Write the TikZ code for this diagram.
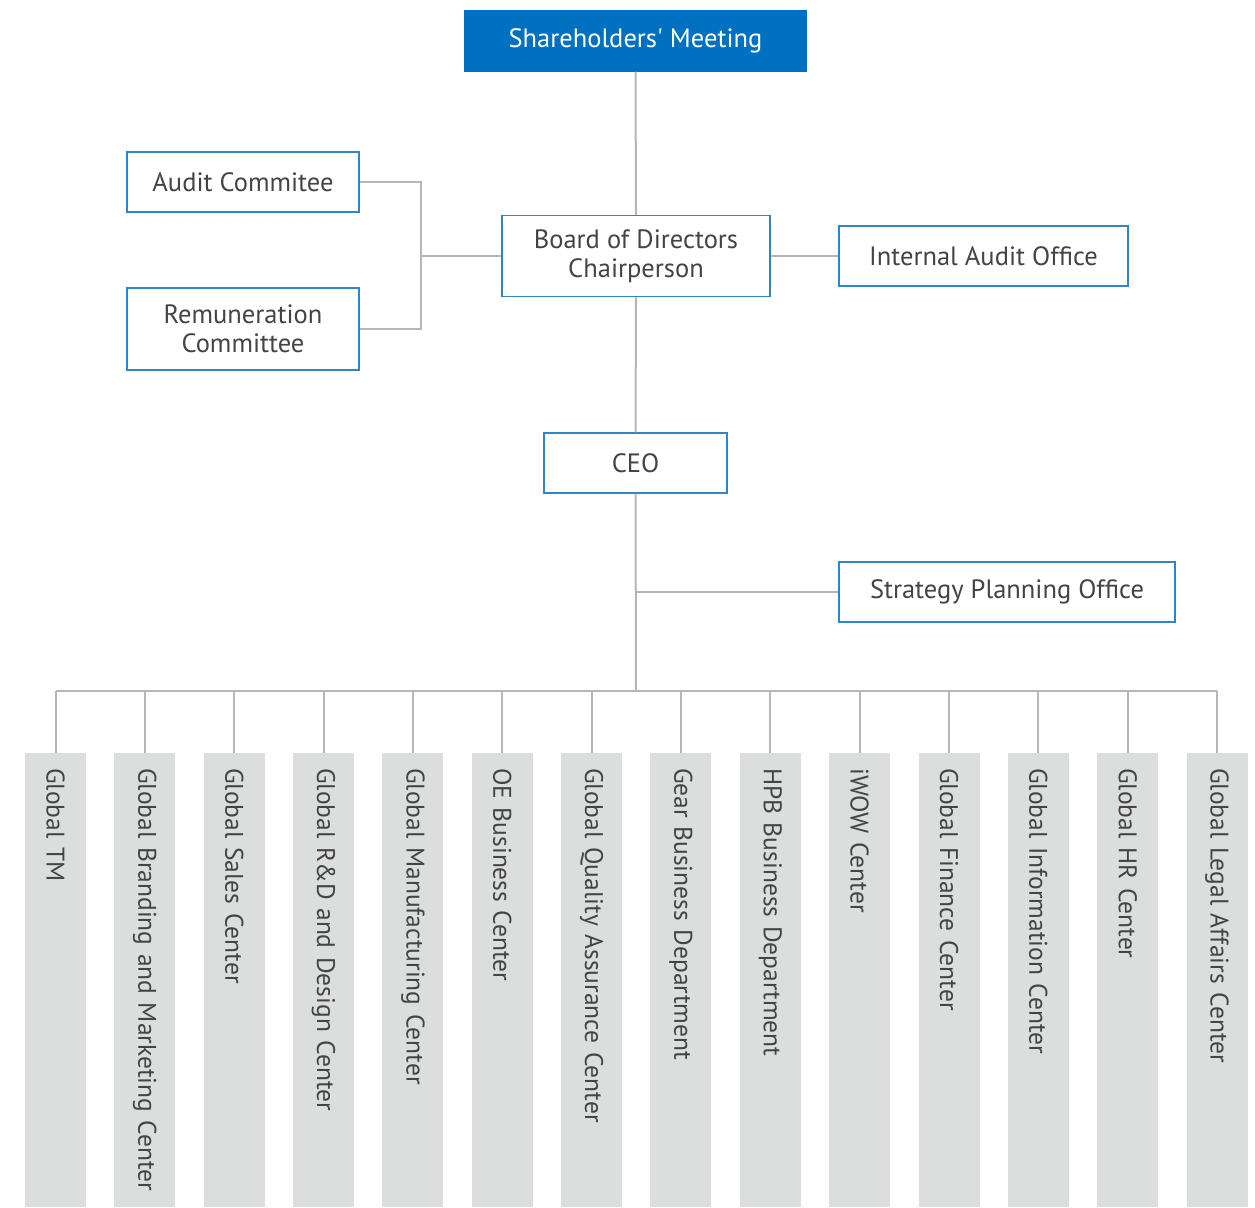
\documentclass[tikz,border=0pt]{standalone}
\usepackage{fontspec}
\setmainfont{PT Sans}
\definecolor{OrgBlue}{RGB}{0,112,192}
\definecolor{OrgEdge}{RGB}{46,134,200}
\definecolor{OrgLine}{RGB}{182,182,182}
\definecolor{OrgBar}{RGB}{220,221,221}
\definecolor{OrgText}{RGB}{68,68,68}
\begin{document}
\begin{tikzpicture}[x=1pt,y=-1pt,
   box/.style n args={2}{draw=OrgEdge,line width=1.5pt,fill=white,text=OrgText,minimum width=#1pt,minimum height=#2pt,align=center,inner sep=0pt,font=\fontsize{26.5}{29}\selectfont},
   top/.style={box={#1}{60},fill=OrgBlue,draw=OrgBlue,text=white},
   link/.style={draw=OrgLine,line width=2pt},
   bar/.style={rotate=-90,anchor=west,fill=OrgBar,minimum width=454pt,minimum height=61pt,inner xsep=15pt,inner ysep=0pt,text width=424pt,align=left,text=OrgText,font=\fontsize{25.5}{29}\selectfont}]
\useasboundingbox (0,0) rectangle (1255,1207);
\node[top=341] (sh) at (635.5,41) {Shareholders\textquotesingle{} Meeting};
\node[box={268}{81}] (board) at (636,256) {Board of Directors\\Chairperson};
\node[box={232}{60}] (audit) at (243,182) {Audit Commitee};
\node[box={232}{82}] (remun) at (243,329) {Remuneration\\Committee};
\node[box={289}{60}] (iao) at (983.5,256) {Internal Audit Office};
\node[box={183}{60}] (ceo) at (635.5,463) {CEO};
\node[box={336}{60}] (spo) at (1007,592) {Strategy Planning Office};
\coordinate (jn) at (421,256);
\coordinate (bus) at (636,691);
\draw[link] (sh.south) -- (board.north);
\draw[link] (board.south) -- (ceo.north);
\draw[link] (audit.east) -| (jn) |- (remun.east);
\draw[link] (jn) -- (board.west);
\draw[link] (board.east) -- (iao.west);
\draw[link] (ceo.south) -- (bus);
\draw[link] (spo.west) -- (spo.west -| bus);
\foreach \i/\1 in %
{0/Global TM,1/Global Branding and Marketing Center,2/Global Sales Center,3/Global R\&D and Design Center,4/Global Manufacturing Center,5/OE Business Center,6/Global Quality Assurance Center,7/Gear Business Department,8/HPB Business Department,9/iWOW Center,10/Global Finance Center,11/Global Information Center,12/Global HR Center,13/Global Legal Affairs Center} {
   \node[bar] (d\i) at ({55.5+89.35*\i},753) {\mbox{\1}};
   \draw[link] (d\i.west) -- (d\i.west |- bus);
}
\draw[link] (d0.west |- bus) -- (d13.west |- bus);
\end{tikzpicture}
\end{document}
